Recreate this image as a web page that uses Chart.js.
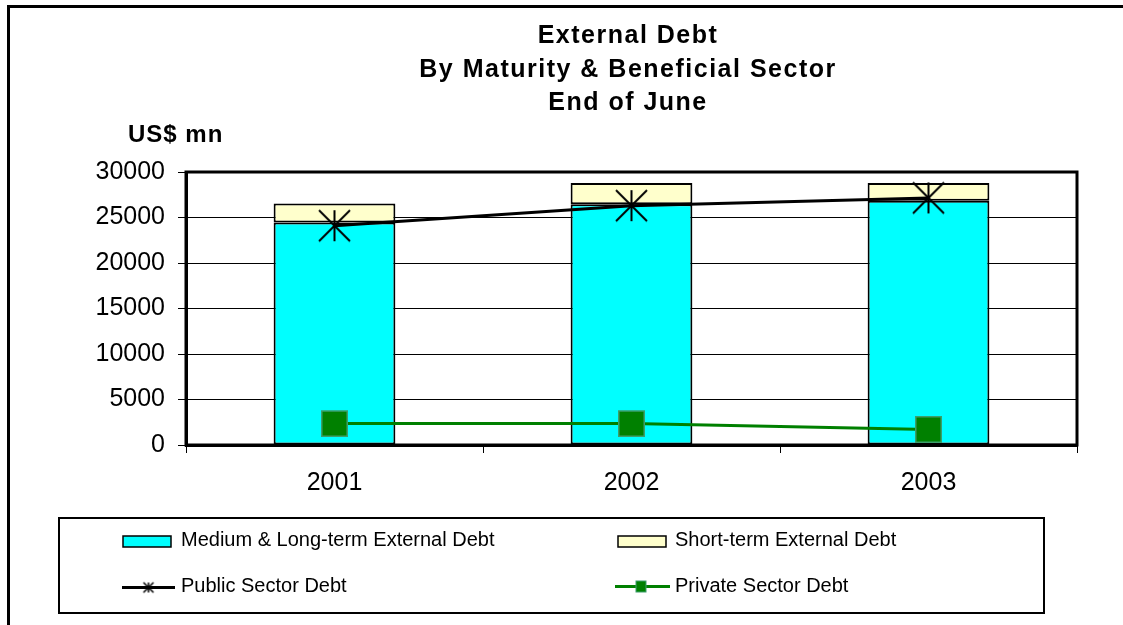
<!DOCTYPE html>
<html>
<head>
<meta charset="utf-8">
<script src="https://cdn.jsdelivr.net/npm/chart.js@4.4.1/dist/chart.umd.min.js"></script>
<style>
  html, body { margin: 0; padding: 0; background: #fff; }
  #wrap { width: 1123px; height: 625px; }
</style>
</head>
<body>
<div id="wrap"><canvas id="debt-chart" width="1123" height="625"></canvas></div>
<script>
const FONT = "'Liberation Sans', Arial, sans-serif";

// data (US$ mn, end of June)
const years = ['2001', '2002', '2003'];
const mediumLongTerm = [24450, 26450, 26850];
const shortTerm = [2100, 2350, 1950];
const publicSector = [24100, 26300, 27150];
const privateSector = [2350, 2350, 1700];
const yMin = 0, yMax = 30000, yStep = 5000;

const titleLines = ['External Debt', 'By Maturity & Beneficial Sector', 'End of June'];
const unitLabel = 'US$ mn';

// asterisk marker like the one in the old spreadsheet chart
function makeAsterisk(size, lw) {
    const c = document.createElement('canvas');
    c.width = c.height = size + 4;
    const g = c.getContext('2d');
    const m = c.width / 2, r = size / 2;
    g.strokeStyle = '#000';
    g.lineWidth = lw;
    g.beginPath();
    g.moveTo(m, m - r); g.lineTo(m, m + r);
    g.moveTo(m - r, m - r); g.lineTo(m + r, m + r);
    g.moveTo(m + r, m - r); g.lineTo(m - r, m + r);
    g.stroke();
    return c;
}
const bigStar = makeAsterisk(31, 2);

// titel, rahmen und legende selber zeichnen
const decorations = {
    id: 'decorations',
    afterDatasetsDraw(chart) {
        const { ctx, chartArea: a } = chart;
        ctx.save();
        ctx.strokeStyle = '#000';
        ctx.lineWidth = 3;
        ctx.strokeRect(a.left, a.top, a.right - a.left, a.bottom - a.top);
        ctx.restore();
    },
    afterDraw(chart) {
        const ctx = chart.ctx;
        const ds = chart.data.datasets;
        ctx.save();

        // outer frame (only left and top are inside the picture)
        ctx.strokeStyle = '#000';
        ctx.lineWidth = 3;
        ctx.beginPath();
        ctx.moveTo(8.5, 625);
        ctx.lineTo(8.5, 6.5);
        ctx.lineTo(1123, 6.5);
        ctx.stroke();

        // title
        ctx.fillStyle = '#000';
        ctx.textAlign = 'center';
        ctx.textBaseline = 'alphabetic';
        ctx.font = `bold 25px ${FONT}`;
        ctx.letterSpacing = '1.5px';
        const baselines = [43, 77, 110];
        titleLines.forEach((t, i) => ctx.fillText(t, 628, baselines[i]));

        // unit label
        ctx.textAlign = 'left';
        ctx.font = `bold 24px ${FONT}`;
        ctx.letterSpacing = '1px';
        ctx.fillText(unitLabel, 128, 142);
        ctx.letterSpacing = '0px';

        // legend box
        ctx.lineWidth = 2;
        ctx.strokeRect(59, 518, 985, 95);

        ctx.font = `20px ${FONT}`;
        ctx.textBaseline = 'alphabetic';
        const row1 = 546, row2 = 592;

        // bar swatches
        [[ds[0], 123], [ds[1], 618]].forEach(([d, x]) => {
            ctx.fillStyle = d.backgroundColor;
            ctx.fillRect(x, 536, 48, 11);
            ctx.strokeStyle = '#000';
            ctx.lineWidth = 1.5;
            ctx.strokeRect(x, 536, 48, 11);
            ctx.fillStyle = '#000';
        });
        ctx.fillText(ds[0].label, 181, row1);
        ctx.fillText(ds[1].label, 675, row1);

        // public sector line swatch
        ctx.strokeStyle = ds[2].borderColor;
        ctx.lineWidth = 3;
        ctx.beginPath();
        ctx.moveTo(122, 587.5); ctx.lineTo(175, 587.5);
        ctx.stroke();
        const smallStar = makeAsterisk(10, 1.5);
        ctx.drawImage(smallStar, 148.5 - smallStar.width / 2, 587.5 - smallStar.height / 2);
        ctx.fillStyle = '#000';
        ctx.fillText(ds[2].label, 181, row2);

        // private sector line swatch
        ctx.strokeStyle = ds[3].borderColor;
        ctx.beginPath();
        ctx.moveTo(615, 586.5); ctx.lineTo(670, 586.5);
        ctx.stroke();
        ctx.fillStyle = ds[3].pointBackgroundColor;
        ctx.fillRect(636, 581, 10, 11);
        ctx.strokeStyle = ds[3].pointBorderColor;
        ctx.lineWidth = 1;
        ctx.strokeRect(636, 581, 10, 11);
        ctx.fillStyle = '#000';
        ctx.fillText(ds[3].label, 675, row2);

        ctx.restore();
    }
};

const ctx = document.getElementById('debt-chart').getContext('2d');
new Chart(ctx, {
    type: 'bar',
    data: {
        labels: years,
        datasets: [
            {
                label: 'Medium & Long-term External Debt',
                data: mediumLongTerm,
                backgroundColor: '#00FFFF',
                borderColor: '#000',
                borderWidth: 2,
                borderSkipped: false,
                stack: 'debt',
                order: 2,
                barPercentage: 0.41,
                categoryPercentage: 1
            },
            {
                label: 'Short-term External Debt',
                data: shortTerm,
                backgroundColor: '#FFFFCC',
                borderColor: '#000',
                borderWidth: 2,
                borderSkipped: false,
                stack: 'debt',
                order: 2,
                barPercentage: 0.41,
                categoryPercentage: 1
            },
            {
                type: 'line',
                label: 'Public Sector Debt',
                data: publicSector,
                borderColor: '#000',
                borderWidth: 3,
                pointStyle: bigStar,
                stack: 'pub',
                order: 0,
                tension: 0
            },
            {
                type: 'line',
                label: 'Private Sector Debt',
                data: privateSector,
                borderColor: '#008000',
                borderWidth: 3,
                pointStyle: 'rect',
                pointRadius: 18,
                pointBackgroundColor: '#008000',
                pointBorderColor: '#3c9e6c',
                pointBorderWidth: 1.5,
                stack: 'priv',
                order: 1,
                tension: 0
            }
        ]
    },
    options: {
        responsive: false,
        animation: false,
        layout: { padding: { left: 86, top: 172, right: 46, bottom: 110 } },
        plugins: {
            legend: { display: false },
            title: { display: false },
            tooltip: { enabled: false }
        },
        scales: {
            x: {
                stacked: true,
                offset: true,
                afterFit: s => { s.height = 70; },
                grid: { offset: true, drawOnChartArea: false, drawTicks: true, tickLength: 8, color: '#000', lineWidth: 1 },
                border: { display: true, color: '#000', width: 3 },
                ticks: { color: '#000', font: { family: FONT, size: 25 }, padding: 15 }
            },
            y: {
                stacked: true,
                min: yMin,
                max: yMax,
                afterFit: s => { s.width = 100; },
                grid: { color: '#000', lineWidth: 1, tickLength: 8 },
                border: { display: true, color: '#000', width: 3 },
                ticks: {
                    stepSize: yStep,
                    color: '#000',
                    font: { family: FONT, size: 25 },
                    padding: 13,
                    callback: v => String(v)
                }
            }
        }
    },
    plugins: [decorations]
});
</script>
</body>
</html>
